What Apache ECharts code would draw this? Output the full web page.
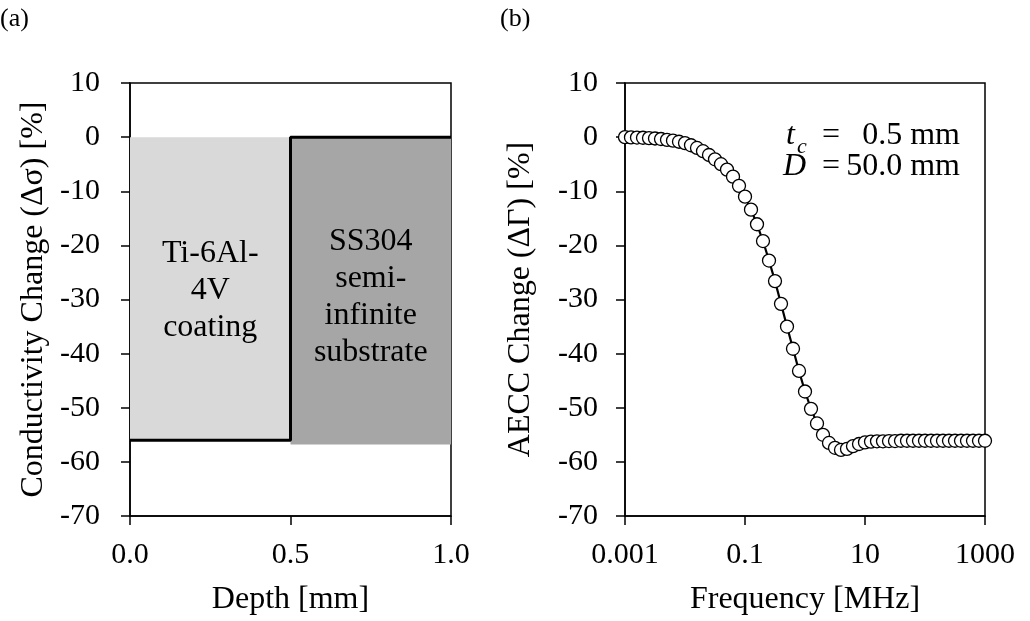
<!DOCTYPE html>
<html>
<head>
<meta charset="utf-8">
<script src="https://cdn.jsdelivr.net/npm/echarts@6/dist/echarts.min.js"></script>
<style>
  html, body { margin: 0; padding: 0; background: #fff; }
  #chart { width: 1030px; height: 621px; }
</style>
</head>
<body>
<div id="chart"></div>
<script>
// (a) conductivity profile
const depthPoints = [0.0, 0.5, 0.5, 1.0]
const sigmaChange = [-56, -56, 0, 0]
const layerNames = ['Ti-6Al-\n4V\ncoating', 'SS304\nsemi-\ninfinite\nsubstrate']
const layerStart = [0.0, 0.5]
const layerEnd = [0.5, 1.0]
const layerBottom = [-56, -56.8]
const depthTicks = [0.0, 0.5, 1.0]

// (b) AECC change vs frequency, frequency as log10(f / MHz)
const freqLog10 = [
  -3.0, -2.9, -2.8, -2.7, -2.6, -2.5, -2.4, -2.3, -2.2, -2.1,
  -2.0, -1.9, -1.8, -1.7, -1.6, -1.5, -1.4, -1.3, -1.2, -1.1,
  -1.0, -0.9, -0.8, -0.7, -0.6, -0.5, -0.4, -0.3, -0.2, -0.1,
  0.0, 0.1, 0.2, 0.3, 0.4, 0.5, 0.6, 0.7, 0.8, 0.9,
  1.0, 1.1, 1.2, 1.3, 1.4, 1.5, 1.6, 1.7, 1.8, 1.9,
  2.0, 2.1, 2.2, 2.3, 2.4, 2.5, 2.6, 2.7, 2.8, 2.9, 3.0
]
const aeccChange = [
  0.0, -0.05, -0.08, -0.12, -0.18, -0.25, -0.35, -0.5, -0.65, -0.85,
  -1.1, -1.5, -2.0, -2.6, -3.3, -4.1, -5.0, -6.0, -7.3, -9.0,
  -11.0, -13.4, -16.1, -19.2, -22.8, -26.6, -30.8, -35.0, -39.1, -43.2,
  -47.0, -50.2, -52.9, -55.0, -56.5, -57.4, -57.8, -57.6, -57.1, -56.7,
  -56.4, -56.25, -56.2, -56.2, -56.15, -56.15, -56.1, -56.1, -56.1, -56.1,
  -56.1, -56.1, -56.1, -56.1, -56.1, -56.1, -56.1, -56.1, -56.1, -56.1, -56.1
]
const yTicks = [-70, -60, -50, -40, -30, -20, -10, 0, 10]

const serif = "'Liberation Serif', 'Times New Roman', serif"

function yAxisOf (gridIndex, name, labelMargin, nameGap) {
  return {
    type: 'value',
    gridIndex: gridIndex,
    min: yTicks[0],
    max: yTicks[yTicks.length - 1],
    interval: 10,
    name: name,
    nameLocation: 'middle',
    nameGap: nameGap,
    nameTextStyle: { color: '#000', fontFamily: serif, fontSize: 32 },
    axisLine: { show: true, onZero: false, lineStyle: { color: '#000', width: 1.5 } },
    axisTick: { show: true, inside: false, length: 9, lineStyle: { color: '#000', width: 1.5 } },
    axisLabel: { color: '#000', fontFamily: serif, fontSize: 30, margin: labelMargin },
    splitLine: { show: false }
  }
}

const chart = echarts.init(document.getElementById('chart'))

const option = {
  backgroundColor: '#fff',
  animation: false,
  grid: [
    { left: 130, right: 579, top: 83, bottom: 104, show: true, borderColor: '#000', borderWidth: 1.5 },
    { left: 625, right: 45, top: 83, bottom: 104, show: true, borderColor: '#000', borderWidth: 1.5 }
  ],
  xAxis: [
    {
      type: 'value',
      gridIndex: 0,
      min: depthTicks[0],
      max: depthTicks[depthTicks.length - 1],
      interval: 0.5,
      name: 'Depth [mm]',
      nameLocation: 'middle',
      nameGap: 68,
      nameTextStyle: { color: '#000', fontFamily: serif, fontSize: 32 },
      axisLine: { show: true, onZero: false, lineStyle: { color: '#000', width: 1.5 } },
      axisTick: { show: true, length: 9, lineStyle: { color: '#000', width: 1.5 } },
      axisLabel: { color: '#000', fontFamily: serif, fontSize: 30, margin: 24, formatter: v => v.toFixed(1) },
      splitLine: { show: false }
    },
    {
      type: 'value',
      gridIndex: 1,
      min: -3,
      max: 3,
      interval: 2,
      name: 'Frequency [MHz]',
      nameLocation: 'middle',
      nameGap: 68,
      nameTextStyle: { color: '#000', fontFamily: serif, fontSize: 32 },
      axisLine: { show: true, onZero: false, lineStyle: { color: '#000', width: 1.5 } },
      axisTick: { show: true, length: 9, lineStyle: { color: '#000', width: 1.5 } },
      axisLabel: {
        color: '#000', fontFamily: serif, fontSize: 30, margin: 24,
        formatter: v => String(parseFloat(Math.pow(10, v).toPrecision(6)))
      },
      splitLine: { show: false }
    }
  ],
  yAxis: [
    yAxisOf(0, 'Conductivity Change (\u0394\u03c3) [%]', 30, 80),
    yAxisOf(1, 'AECC Change (\u0394\u0393) [%]', 27, 88)
  ],
  series: [
    {
      type: 'line',
      xAxisIndex: 0,
      yAxisIndex: 0,
      data: [],
      z: 1,
      silent: true,
      markArea: {
        silent: true,
        label: {
          show: true,
          position: 'inside',
          color: '#000',
          fontFamily: serif,
          fontSize: 32,
          lineHeight: 37,
          align: 'center'
        },
        data: layerNames.map((name, i) => [
          {
            name: name,
            coord: [layerStart[i], 0],
            itemStyle: { color: i === 0 ? '#d9d9d9' : '#a6a6a6', opacity: 1 },
            label: { offset: [0, i === 0 ? 2 : 6] }
          },
          { coord: [layerEnd[i], layerBottom[i]] }
        ])
      }
    },
    {
      type: 'line',
      xAxisIndex: 0,
      yAxisIndex: 0,
      z: 3,
      showSymbol: false,
      data: depthPoints.map((d, i) => [d, sigmaChange[i]]),
      lineStyle: { color: '#000', width: 3 }
    },
    {
      type: 'line',
      xAxisIndex: 1,
      yAxisIndex: 1,
      z: 3,
      symbol: 'circle',
      symbolSize: 13,
      data: freqLog10.map((f, i) => [f, aeccChange[i]]),
      lineStyle: { color: '#000', width: 2.2 },
      itemStyle: { color: '#fff', borderColor: '#000', borderWidth: 1.3 }
    }
  ],
  graphic: [
    { type: 'text', x: 0, y: 19, style: { text: '(a)', font: '26px ' + serif, fill: '#000', textVerticalAlign: 'middle' } },
    { type: 'text', x: 500, y: 19, style: { text: '(b)', font: '26px ' + serif, fill: '#000', textVerticalAlign: 'middle' } },
    { type: 'text', x: 786, y: 136, style: { text: 't', font: 'italic 32px ' + serif, fill: '#000', textVerticalAlign: 'middle' } },
    { type: 'text', x: 797, y: 147, style: { text: 'c', font: 'italic 22px ' + serif, fill: '#000', textVerticalAlign: 'middle' } },
    { type: 'text', x: 831, y: 136, style: { text: '=', font: '32px ' + serif, fill: '#000', textAlign: 'center', textVerticalAlign: 'middle' } },
    { type: 'text', x: 960, y: 136, style: { text: '0.5 mm', font: '32px ' + serif, fill: '#000', textAlign: 'right', textVerticalAlign: 'middle' } },
    { type: 'text', x: 783, y: 167, style: { text: 'D', font: 'italic 32px ' + serif, fill: '#000', textVerticalAlign: 'middle' } },
    { type: 'text', x: 831, y: 167, style: { text: '=', font: '32px ' + serif, fill: '#000', textAlign: 'center', textVerticalAlign: 'middle' } },
    { type: 'text', x: 960, y: 167, style: { text: '50.0 mm', font: '32px ' + serif, fill: '#000', textAlign: 'right', textVerticalAlign: 'middle' } }
  ]
}

chart.setOption(option)
</script>
</body>
</html>
